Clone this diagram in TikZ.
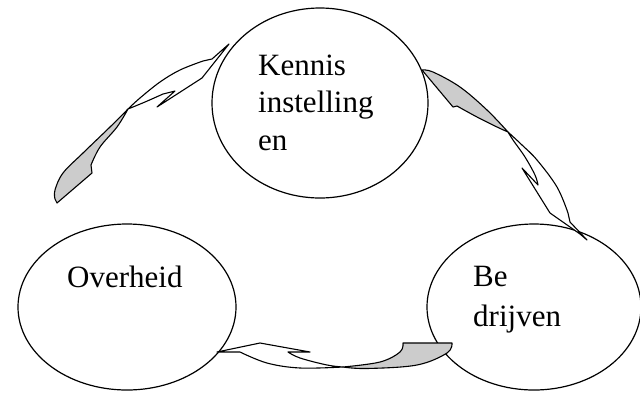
\documentclass[tikz,border=0pt]{standalone}
\usepackage{fontspec}
\setmainfont{Liberation Serif}
\usetikzlibrary{shapes.geometric}
\definecolor{tailgray}{RGB}{204,204,204}
\begin{document}
\begin{tikzpicture}[x=1pt,y=-1pt,
  bubble/.style={draw, line width=1.2pt, ellipse, inner sep=0pt},
  lbl/.style={anchor=base west, inner sep=0pt, font=\fontsize{31}{37}\selectfont},
  arrline/.style={draw, line width=1.1pt, line join=round, fill=white},
  tailpart/.style={draw, line width=1.1pt, line join=round, fill=tailgray}]
\useasboundingbox (0,0) rectangle (640,392);

% ellipses
\node[bubble, minimum width=216pt, minimum height=190pt] (kennis) at (320,103) {};
\node[bubble, minimum width=218pt, minimum height=166pt] (overheid) at (127,307) {};
\node[bubble, minimum width=214pt, minimum height=166pt] (bedrijven) at (534,307) {};

% texts
\node[lbl] (t1) at (258,75) {Kennis};
\node[lbl] (t2) at (258,112) {instelling};
\node[lbl] (t3) at (258,150) {en};
\node[lbl] (t4) at (67,287) {Overheid};
\node[lbl] (t5) at (473,286) {Be};
\node[lbl] (t6) at (473,326) {drijven};

% arrow 1 (Overheid -> Kennisinstellingen), top left
\path[tailpart] plot[smooth,tension=0.6] coordinates {(128,109) (110,127) (83,153) (63,173) (55,190) (55,199)}
  -- (57,203) -- (92,173) -- (91,165)
  -- plot[smooth,tension=0.6] coordinates {(91,165) (100,147) (117,127) (128,109)} -- cycle;
\path[arrline] plot[smooth,tension=0.6] coordinates {(128,109) (140,98) (160,82) (180,70) (203,61)}
  -- (212,59) -- (229,44) -- (202,78) -- (157,107) -- (175,91)
  -- plot[smooth,tension=0.6] coordinates {(163,94) (145,102) (128,109)};

% arrow 2 (Kennisinstellingen -> Bedrijven), top right
\path[tailpart] plot[smooth,tension=0.6] coordinates {(422,70) (433,72) (460,87) (487,110) (508,132)}
  -- plot[smooth,tension=0.6] coordinates {(508,132) (497,127) (477,117) (457,106)}
  -- (453,107) -- cycle;
\path[arrline] plot[smooth,tension=0.6] coordinates {(508,132) (522,145) (537,160) (557,187) (568,213)}
  -- (570,222) -- (587,240) -- (580,234) -- (550,213) -- (522,168) -- (538,185)
  -- plot[smooth,tension=0.6] coordinates {(538,185) (535,175) (525,157) (513,140) (508,132)};

% arrow 3 (Bedrijven -> Overheid), bottom
\path[tailpart] (403,343) -- (452,343)
  -- plot[smooth,tension=0.6] coordinates {(452,343) (447,353) (417,365) (367,368.5) (343,367)}
  -- plot[smooth,tension=0.6] coordinates {(343,367) (380,362) (400,352) (403,343)} -- cycle;
\path[arrline] (217,352) -- (260,343) -- (310,352) -- (288,352)
  -- plot[smooth,tension=0.6] coordinates {(288,352) (300,358) (327,365) (343,367)}
  -- plot[smooth,tension=0.6] coordinates {(343,367) (300,368) (267,363) (240,352)} -- cycle;
\end{tikzpicture}
\end{document}
